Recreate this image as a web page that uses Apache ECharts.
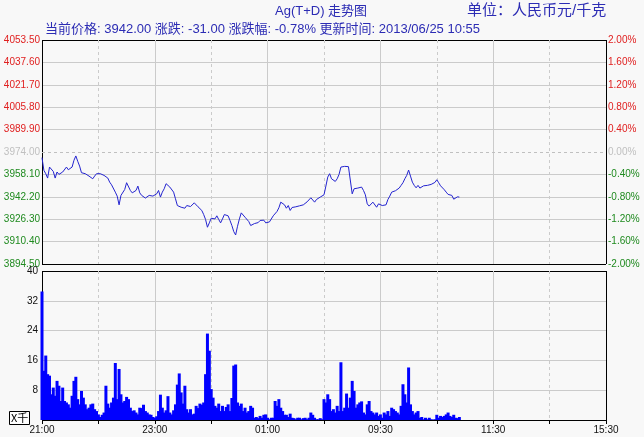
<!DOCTYPE html>
<html><head><meta charset="utf-8">
<script src="https://cdn.jsdelivr.net/npm/echarts@6/dist/echarts.min.js"></script>
<style>html,body{margin:0;padding:0;background:#f8f8f8}#c{width:644px;height:437px}</style>
</head><body><div id="c"></div><script>
// ---- data ----
const STEP_MIN = 2; // one sample every 2 minutes from 21:00
const prices = [
3970.0,3961.0,3958.6,3955.5,3963.3,3962.1,3960.2,3955.5,3959.8,3958.1,
3957.9,3959.8,3960.2,3963.3,3961.4,3961.7,3963.3,3968.1,3971.2,3967.4,
3964.0,3959.3,3959.8,3958.6,3957.9,3956.9,3956.2,3955.0,3956.9,3958.6,
3958.6,3958.6,3958.1,3957.4,3956.2,3955.5,3952.6,3950.7,3949.8,3945.5,
3942.7,3936.5,3943.2,3943.6,3947.4,3952.2,3953.1,3946.7,3945.0,3943.6,
3946.7,3949.8,3945.0,3943.2,3942.0,3941.3,3942.7,3943.2,3944.3,3942.7,
3943.6,3944.3,3946.7,3942.0,3945.5,3947.9,3951.5,3951.5,3949.1,3947.9,
3945.5,3940.8,3936.0,3937.2,3934.8,3936.0,3934.1,3936.0,3937.2,3935.3,
3936.5,3937.9,3936.7,3935.1,3934.8,3932.5,3929.6,3926.1,3920.6,3923.7,
3927.0,3925.8,3926.5,3928.7,3926.1,3923.7,3926.5,3929.6,3928.4,3928.7,
3925.4,3921.8,3917.5,3915.1,3921.3,3926.5,3930.8,3929.4,3927.7,3926.5,
3924.6,3921.8,3923.0,3923.2,3924.4,3923.9,3925.4,3924.9,3925.6,3923.7,
3923.2,3924.4,3925.8,3928.7,3930.1,3931.8,3934.4,3938.4,3939.6,3936.5,
3934.1,3936.0,3932.5,3934.6,3933.9,3935.1,3934.8,3935.8,3935.6,3936.5,
3937.9,3938.6,3939.8,3941.5,3940.8,3938.4,3940.3,3940.8,3942.0,3941.3,
3943.6,3949.8,3956.2,3958.6,3955.0,3956.2,3953.1,3955.0,3958.1,3963.3,
3963.3,3963.8,3962.8,3963.6,3964.0,3944.3,3947.9,3948.4,3948.4,3949.6,
3949.1,3946.7,3943.6,3937.2,3935.6,3936.5,3938.4,3937.2,3934.8,3937.2,
3936.0,3936.0,3935.6,3936.5,3940.3,3942.7,3945.5,3946.7,3946.5,3947.9,
3948.4,3950.3,3952.2,3955.0,3957.4,3961.2,3956.9,3952.6,3950.3,3948.6,
3950.3,3948.4,3949.1,3950.0,3949.3,3950.3,3950.5,3951.0,3950.7,3952.4,
3954.3,3952.2,3950.0,3948.6,3947.2,3945.5,3943.9,3944.3,3943.2,3940.5,
3940.8,3942.2,3942.0
];
const volumes = [
34.5,13.2,17.3,12.3,11.9,6.9,8.7,6.5,10.5,9.2,
5.1,8.7,5.1,4.7,4.2,3.3,6.5,10.5,11.6,5.6,
4.2,7.8,6.0,4.2,2.9,3.3,4.2,4.4,2.9,2.4,
1.5,0.8,1.4,2.0,9.2,4.4,3.3,4.7,6.0,15.3,
5.6,13.7,6.9,4.7,5.1,6.2,5.6,3.3,2.4,2.6,
2.0,1.5,3.3,3.2,4.1,2.4,2.0,1.5,1.4,0.8,
0.6,1.0,2.4,6.8,3.3,2.0,2.6,6.4,2.0,1.5,
2.6,4.2,9.5,12.5,7.4,4.4,9.2,2.9,2.0,2.9,
1.5,1.7,3.8,3.2,4.4,4.1,4.7,12.3,23.2,18.6,
8.3,6.0,3.8,3.3,4.4,2.4,3.8,2.4,3.5,4.2,
2.4,5.9,14.6,14.9,4.7,3.8,4.4,2.4,3.3,2.0,
2.4,3.8,3.3,0.6,0.8,0.5,1.1,0.6,1.4,1.5,
0.6,0.2,0.6,0.6,5.1,3.8,5.6,3.3,2.4,1.4,
1.4,0.8,1.7,0.6,0.5,0.2,0.6,0.6,0.2,0.5,
0.6,0.2,0.6,2.0,1.4,0.6,0.2,0.2,0.5,0.2,
5.6,4.7,6.9,5.6,2.4,2.9,2.0,3.8,2.4,15.5,
2.4,3.3,7.1,3.3,6.0,10.5,7.8,3.3,4.2,4.7,
5.0,2.0,1.5,4.2,5.1,2.4,2.0,1.5,2.0,1.1,
1.5,0.6,2.0,1.5,2.4,1.1,3.3,2.9,2.4,2.0,
1.5,3.8,9.6,6.9,4.7,14.1,4.2,2.4,1.5,2.0,
2.4,0.6,0.8,0.2,0.6,0.2,0.6,0.2,0.1,0.2,
1.4,0.6,1.1,0.8,1.1,1.5,2.0,1.1,0.8,1.4,
0.6,0.5,0.8
];
const prevClose = 3974.00;
const priceMin = 3894.50, priceMax = 4053.50, priceStep = 15.90;
const pctMin = -2, pctMax = 2, pctStep = 0.4;
const volMax = 40, volStep = 8;
const sessionMinutes = 600;
const timeLabels = ['21:00','23:00','01:00','09:30','11:30','15:30'];
const labelEvery = 120, gridEvery = 60;
const header = {title:'Ag(T+D) 走势图', unit:'单位：人民币元/千克', last:'3942.00', change:'-31.00', pct:'-0.78%', time:'2013/06/25 10:55'};

// ---- styling ----
const FONT = '"Liberation Sans", Arial, "Noto Sans CJK SC", sans-serif';
const RED = '#e02020', GREEN = '#1f8a1f', GRAY = '#c0c0c0', BLUE_TXT = '#2c2cb4';
const GRID_C = '#cbcbcb', BORDER = '#000';
const lineColors = (n, skipFn) => Array.from({length:n}, (_, i) =>
  (i === 0 || i === n - 1) ? BORDER : (skipFn && skipFn(i) ? 'rgba(0,0,0,0)' : GRID_C));
const nP = Math.round((priceMax - priceMin) / priceStep) + 1;
const priceLineColors = lineColors(nP, i => Math.abs(priceMin + i * priceStep - prevClose) < 1e-6);
const nG = sessionMinutes / gridEvery + 1, nL = sessionMinutes / labelEvery + 1;
const nV = volMax / volStep + 1;

const G0 = {left:42, right:38, top:40, height:224};
const G1 = {left:42, right:38, top:271, height:149};

const chart = echarts.init(document.getElementById('c'), null, {renderer:'canvas'});
const xBase = (gi, extra) => Object.assign({
  type:'value', gridIndex:gi, min:0, max:sessionMinutes, position:'bottom',
  axisLine:{show:false}, axisTick:{show:false}, axisLabel:{show:false}
}, extra);

chart.setOption({
  animation:false,
  backgroundColor:'#f8f8f8',
  textStyle:{fontFamily:FONT},
  title:[
    {text:header.title, left:275, top:5, padding:0, textStyle:{fontSize:13, fontWeight:'normal', color:BLUE_TXT, fontFamily:FONT}},
    {text:header.unit, left:467, top:3, padding:0, textStyle:{fontSize:15, fontWeight:'normal', color:BLUE_TXT, fontFamily:FONT}},
    {text:`当前价格: ${header.last} 涨跌: ${header.change} 涨跌幅: ${header.pct} 更新时间: ${header.time}`,
     left:45, top:23, padding:0, textStyle:{fontSize:13, fontWeight:'normal', color:BLUE_TXT, fontFamily:FONT}}
  ],
  grid:[
    Object.assign({show:false, outerBoundsMode:'none'}, G0),
    Object.assign({show:false, outerBoundsMode:'none'}, G1)
  ],
  xAxis:[
    xBase(0, {interval:gridEvery, splitLine:{show:true, lineStyle:{color:lineColors(nG), type:[3,3], width:1}}}),
    xBase(0, {interval:labelEvery, splitLine:{show:true, lineStyle:{color:lineColors(nL), width:1}}}),
    xBase(1, {interval:gridEvery, axisTick:{show:true, length:4, lineStyle:{color:'#000'}},
              splitLine:{show:true, lineStyle:{color:lineColors(nG), type:[3,3], width:1}}}),
    xBase(1, {interval:labelEvery, splitLine:{show:true, lineStyle:{color:lineColors(nL), width:1}},
              axisLabel:{show:true, margin:5, fontSize:10, color:'#111', fontFamily:FONT,
                         formatter:v => timeLabels[Math.round(v / labelEvery)]}})
  ],
  yAxis:[
    {type:'value', gridIndex:0, position:'left', min:priceMin, max:priceMax, interval:priceStep,
     axisLine:{show:false}, axisTick:{show:false},
     splitLine:{show:true, lineStyle:{color:priceLineColors, width:1}},
     axisLabel:{margin:2, fontSize:10, fontFamily:FONT,
       formatter:v => Number(v).toFixed(2),
       color:v => { const d = parseFloat(v) - prevClose; return Math.abs(d) < 1e-6 ? GRAY : (d > 0 ? RED : GREEN); }}},
    {type:'value', gridIndex:0, position:'right', min:pctMin, max:pctMax, interval:pctStep,
     axisLine:{show:false}, axisTick:{show:false}, splitLine:{show:false},
     axisLabel:{margin:2, fontSize:10, fontFamily:FONT,
       formatter:v => Number(v).toFixed(2) + '%',
       color:v => { const d = parseFloat(v); return Math.abs(d) < 1e-6 ? GRAY : (d > 0 ? RED : GREEN); }}},
    {type:'value', gridIndex:1, position:'left', min:0, max:volMax, interval:volStep,
     axisLine:{show:false}, axisTick:{show:false},
     splitLine:{show:true, lineStyle:{color:lineColors(nV), width:1}},
     axisLabel:{margin:4, fontSize:10, color:'#111', fontFamily:FONT, showMinLabel:false,
       formatter:v => (Number(v) === 0 ? '' : String(v))}}
  ],
  graphic:[
    {type:'rect', left:9, top:411, shape:{width:20, height:13}, style:{fill:'#fff', stroke:'#000', lineWidth:1}},
    {type:'text', left:11, top:412, style:{text:'X千', font:'11px "Noto Sans CJK SC", sans-serif', fill:'#000'}}
  ],
  series:[
    {type:'line', name:'price', xAxisIndex:0, yAxisIndex:0, symbol:'none', silent:true,
     data:prices.map((p, i) => [i * STEP_MIN, p]),
     lineStyle:{color:'#2424d0', width:1},
     markLine:{silent:true, symbol:'none', label:{show:false},
       lineStyle:{color:GRAY, type:[3,3], width:1}, data:[{yAxis:prevClose}]}},
    {type:'bar', name:'volume', xAxisIndex:2, yAxisIndex:2, silent:true, barWidth:3, barMinWidth:2,
     data:volumes.map((v, i) => [i * STEP_MIN, v]),
     itemStyle:{color:'#0000ff'}}
  ]
});
</script></body></html>
